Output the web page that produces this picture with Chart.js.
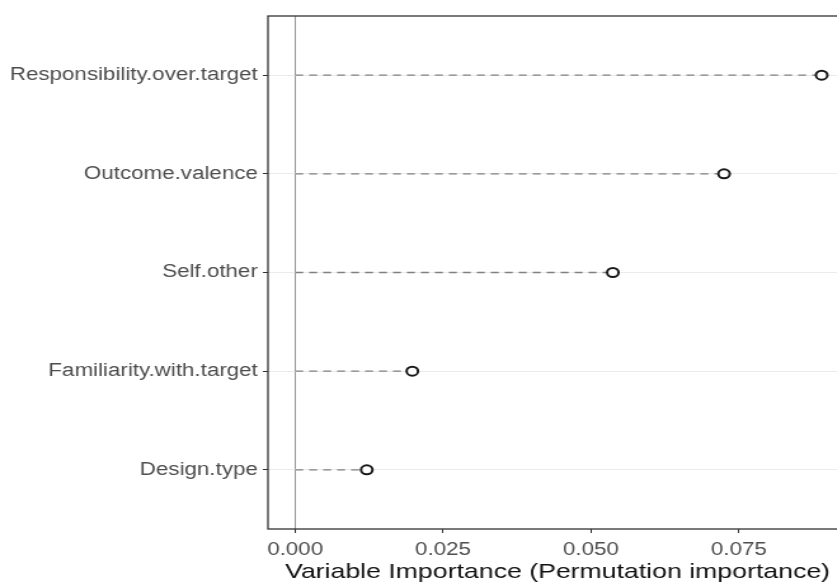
<!DOCTYPE html>
<html>
<head>
<meta charset="utf-8">
<script src="https://cdn.jsdelivr.net/npm/chart.js@4/dist/chart.umd.min.js"></script>
<style>
  html, body { margin: 0; padding: 0; background: #fff; overflow: hidden; width: 837px; height: 586px; }
  #wrap { width: 860px; height: 586px; }
  #c { display: block; transform: scaleX(1.27); transform-origin: 0 0; }
</style>
</head>
<body>
<div id="wrap"><canvas id="c" width="677" height="586"></canvas></div>
<script>
// Variables ordered from most to least important (top to bottom)
const variables = [
  'Responsibility.over.target',
  'Outcome.valence',
  'Self.other',
  'Familiarity.with.target',
  'Design.type'
];
// Permutation importance of each variable
const importance = [0.0890, 0.0725, 0.0537, 0.0198, 0.0121];
// Tick values on the importance axis
const xTicks = [0, 0.025, 0.05, 0.075];
const xMin = -0.0046;
const xMax = 0.0933;

// Row position on the vertical axis: first variable at the top
const rowPos = variables.map((_, i) => variables.length - i);

const segmentSets = importance.map((v, i) => ({
  type: 'line',
  data: [{ x: 0, y: rowPos[i] }, { x: v, y: rowPos[i] }],
  borderColor: '#808080',
  borderWidth: 1.3,
  borderDash: [6.3, 4.7],
  pointRadius: 0,
  fill: false,
  order: 2
}));

const pointSet = {
  type: 'scatter',
  data: importance.map((v, i) => ({ x: v, y: rowPos[i] })),
  pointRadius: 4.5,
  pointBorderWidth: 2,
  pointBorderColor: '#1a1a1a',
  pointBackgroundColor: '#ffffff',
  order: 1
};

// Frame around the panel
const panelBox = {
  id: 'panelBox',
  afterDraw(chart) {
    const { ctx, chartArea: a } = chart;
    ctx.save();
    ctx.strokeStyle = '#333333';
    ctx.lineWidth = 1.3;
    ctx.strokeRect(a.left, a.top, a.right - a.left, a.bottom - a.top);
    ctx.restore();
  }
};

const tickFont = { family: 'Liberation Sans, Arial, sans-serif', size: 17.6 };

new Chart(document.getElementById('c'), {
  type: 'scatter',
  data: { datasets: [...segmentSets, pointSet] },
  plugins: [panelBox],
  options: {
    responsive: false,
    animation: false,
    layout: { padding: { top: 16, right: 10, left: 0, bottom: 0 } },
    plugins: { legend: { display: false }, tooltip: { enabled: false } },
    scales: {
      x: {
        type: 'linear',
        min: xMin,
        max: xMax,
        afterBuildTicks(scale) { scale.ticks = xTicks.map(v => ({ value: v })); },
        afterFit(scale) { scale.height = 57; },
        border: { display: false },
        grid: {
          color: c => (c.tick && c.tick.value === 0 ? '#999999' : 'rgba(0,0,0,0)'),
          lineWidth: 1,
          tickColor: '#333333',
          tickLength: 4
        },
        ticks: {
          color: '#4d4d4d',
          font: tickFont,
          padding: 7,
          maxRotation: 0,
          callback: v => Number(v).toFixed(3)
        },
        title: {
          display: true,
          text: 'Variable Importance (Permutation importance)',
          color: '#111111',
          font: { family: 'Liberation Sans, Arial, sans-serif', size: 21 },
          padding: { top: 0, bottom: 1 }
        }
      },
      y: {
        type: 'linear',
        min: 0.4,
        max: variables.length + 0.6,
        afterBuildTicks(scale) { scale.ticks = rowPos.map(v => ({ value: v })); },
        afterFit(scale) { scale.width = 211; },
        border: { display: false },
        grid: {
          color: '#ebebeb',
          lineWidth: 1,
          tickColor: '#333333',
          tickLength: 4
        },
        ticks: {
          color: '#4d4d4d',
          font: tickFont,
          padding: 4,
          callback: v => variables[variables.length - v]
        }
      }
    }
  }
});
</script>
</body>
</html>
